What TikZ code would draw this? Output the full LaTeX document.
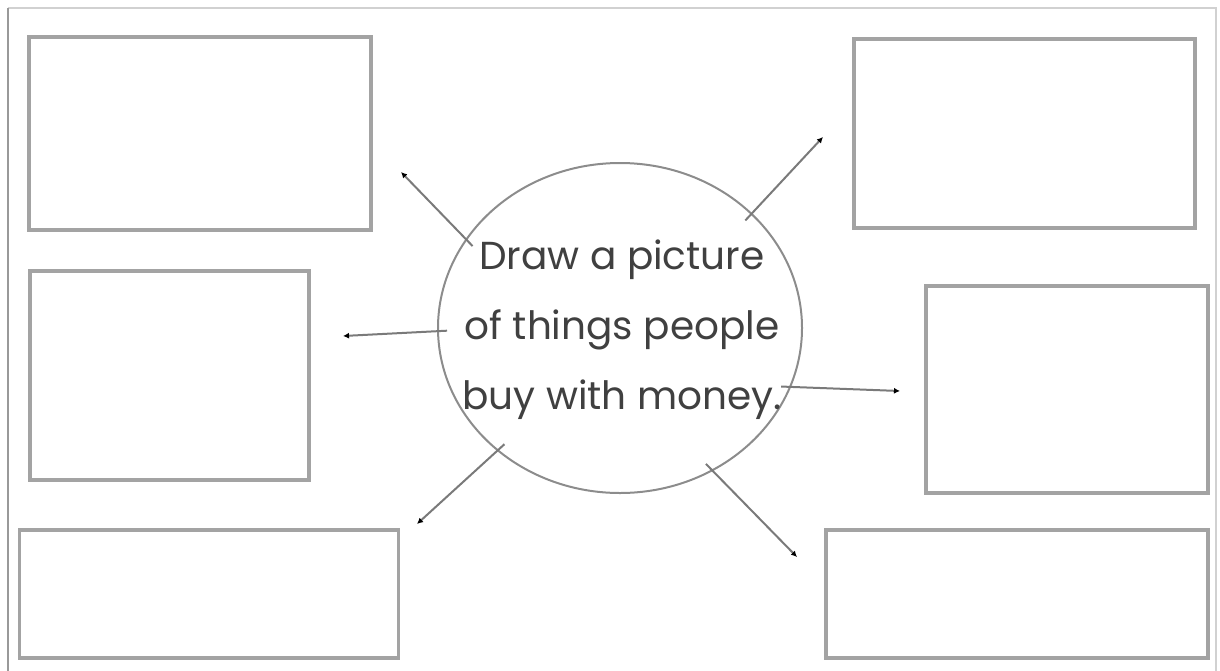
\documentclass[tikz,border=0pt]{standalone}
\usepackage{fontspec}
\setmainfont{Poppins}
\usetikzlibrary{shapes.geometric,arrows.meta}

\begin{document}
\begin{tikzpicture}[x=0.5pt,y=-0.5pt,
  box/.style={draw=black!36,line width=1.8pt,rectangle,inner sep=0pt},
  link/.style={draw=black!52,line width=1pt,-{Latex[length=3pt,width=3pt,black]},shorten <=-5pt}]
\useasboundingbox (0,0) rectangle (1220,670);
\draw[black!18,line width=1.2pt] (8,8)--(1216,8)--(1216,676);
\draw[black!40,line width=1.4pt] (8,8)--(8,676);
\node[box,minimum width=171pt,minimum height=96.5pt] (B1) at (200,133.5) {};
\node[box,minimum width=139.5pt,minimum height=104.5pt] (B2) at (169.5,375.5) {};
\node[box,minimum width=189.5pt,minimum height=64pt] (B3) at (209,594) {};
\node[box,minimum width=170.5pt,minimum height=94.5pt] (B4) at (1024.5,133.5) {};
\node[box,minimum width=141pt,minimum height=103.5pt] (B5) at (1067,389.5) {};
\node[box,minimum width=191pt,minimum height=64pt] (B6) at (1017,594) {};
\node[draw=black!45,line width=1pt,ellipse,minimum width=182pt,minimum height=165pt,inner sep=0pt] (C) at (620,328) {};
\node[text=black!75,align=center,font=\fontsize{19.5}{35}\selectfont] (txt) at (622,330) {Draw a picture\\of things people\\buy with money.};
\coordinate (T1) at (401,172);
\coordinate (T2) at (343,336);
\coordinate (T3) at (417,524);
\coordinate (T4) at (823,137);
\coordinate (T5) at (900,391);
\coordinate (T6) at (797,557);
\draw[link] (C.150)--(T1);
\draw[link] (C.181)--(T2);
\draw[link] (C.225)--(T3);
\draw[link] (C.41)--(T4);
\draw[link] (C.-19)--(T5);
\draw[link] (C.-57)--(T6);
%\draw[red] (C.center) circle [radius=4];
\end{tikzpicture}
\end{document}
